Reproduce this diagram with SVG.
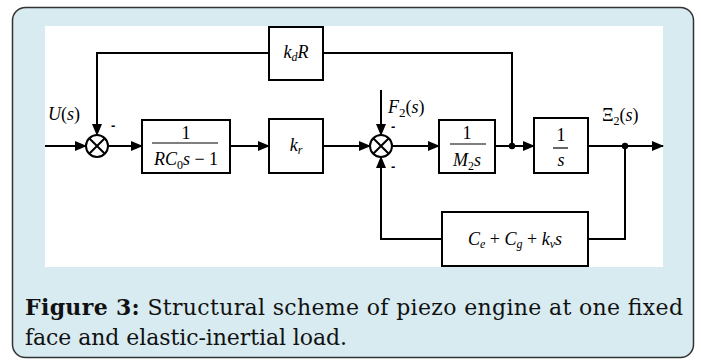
<svg xmlns="http://www.w3.org/2000/svg" width="701" height="364" viewBox="0 0 701 364">
<defs>
<style>
.blk{fill:#fff;stroke:#000;stroke-width:2}
.ln{fill:none;stroke:#000;stroke-width:2}
.m{font-family:"Liberation Serif","Times New Roman",serif;font-size:18px;fill:#000}
.i{font-style:italic}
.sub{font-size:12px;font-style:italic}
.frac{stroke:#000;stroke-width:1.2}
.minus{font-family:"Liberation Sans",Arial,sans-serif;font-size:13px;font-weight:bold;fill:#000}
.cap{font-family:"DejaVu Serif",serif;font-size:22px;fill:#111}
</style>
<marker id="ah" markerWidth="12" markerHeight="10" refX="11" refY="5" orient="auto" markerUnits="userSpaceOnUse">
<path d="M0,0 L12,5 L0,10 z" fill="#000"/>
</marker>
</defs>
<rect x="12.5" y="7.5" width="681" height="350" rx="13" fill="#d7ebf0" stroke="#333" stroke-width="1.5"/>
<rect x="45" y="26" width="618" height="241" fill="#fff"/>

<g id="connectors">
<path class="ln" d="M45,146 H86" marker-end="url(#ah)"/>
<path class="ln" d="M108,146 H142" marker-end="url(#ah)"/>
<path class="ln" d="M230,146 H269" marker-end="url(#ah)"/>
<path class="ln" d="M323,146 H370" marker-end="url(#ah)"/>
<path class="ln" d="M392,146 H439" marker-end="url(#ah)"/>
<path class="ln" d="M495,146 H534" marker-end="url(#ah)"/>
<path class="ln" d="M588,146 H663" marker-end="url(#ah)"/>
<path class="ln" d="M512,146 V53 H323"/>
<path class="ln" d="M269,53 H97 V135" marker-end="url(#ah)"/>
<path class="ln" d="M381,90 V135" marker-end="url(#ah)"/>
<path class="ln" d="M625,146 V239 H588"/>
<path class="ln" d="M442,239 H381 V157" marker-end="url(#ah)"/>
<circle cx="512" cy="146" r="3.2" fill="#000"/>
<circle cx="625" cy="146" r="3.2" fill="#000"/>
</g>

<g id="sum1">
<circle cx="97" cy="146" r="11" fill="#fff" stroke="#000" stroke-width="2"/>
<path class="ln" d="M89.2,138.2 L104.8,153.8 M104.8,138.2 L89.2,153.8"/>
<text class="minus" x="111" y="130">-</text>
</g>

<g id="sum2">
<circle cx="381" cy="146" r="11" fill="#fff" stroke="#000" stroke-width="2"/>
<path class="ln" d="M373.2,138.2 L388.8,153.8 M388.8,138.2 L373.2,153.8"/>
<text class="minus" x="391" y="131">-</text>
<text class="minus" x="391" y="171">-</text>
</g>

<g id="input">
<text class="m" x="48" y="120" font-size="20"><tspan class="i">U</tspan>(<tspan class="i">s</tspan>)</text>
</g>

<g id="disturbance">
<text class="m" x="388" y="113" font-size="20"><tspan class="i">F</tspan><tspan font-size="13" dy="4">2</tspan><tspan dy="-4">(</tspan><tspan class="i">s</tspan>)</text>
</g>

<g id="output">
<text class="m" x="602" y="121" font-size="19">Ξ<tspan font-size="12" dy="4">2</tspan><tspan dy="-4">(</tspan><tspan class="i">s</tspan>)</text>
</g>

<g id="kdR">
<rect class="blk" x="269" y="27" width="54" height="53"/>
<text class="m" x="296" y="58" text-anchor="middle"><tspan class="i">k</tspan><tspan class="sub" dy="3">d</tspan><tspan class="i" dy="-3">R</tspan></text>
</g>

<g id="block1">
<rect class="blk" x="142" y="120" width="88" height="53"/>
<text class="m" x="186" y="139" text-anchor="middle">1</text>
<line class="frac" x1="152" y1="143" x2="218" y2="143"/>
<text class="m" x="186" y="165" text-anchor="middle"><tspan class="i">RC</tspan><tspan font-size="12" dy="4">0</tspan><tspan class="i" dy="-4">s</tspan> − 1</text>
</g>

<g id="kr">
<rect class="blk" x="269" y="119" width="54" height="54"/>
<text class="m" x="296" y="151" text-anchor="middle"><tspan class="i">k</tspan><tspan class="sub" dy="3">r</tspan></text>
</g>

<g id="block_M2s">
<rect class="blk" x="439" y="120" width="56" height="53"/>
<text class="m" x="467" y="139" text-anchor="middle">1</text>
<line class="frac" x1="450" y1="144" x2="486" y2="144"/>
<text class="m" x="467" y="166" text-anchor="middle"><tspan class="i">M</tspan><tspan font-size="12" dy="4">2</tspan><tspan class="i" dy="-4">s</tspan></text>
</g>

<g id="block_s">
<rect class="blk" x="534" y="118" width="54" height="55"/>
<text class="m" x="561" y="141" text-anchor="middle">1</text>
<line class="frac" x1="553" y1="148" x2="568" y2="148"/>
<text class="m i" x="561" y="166" text-anchor="middle">s</text>
</g>

<g id="block_C">
<rect class="blk" x="442" y="212" width="146" height="54"/>
<text class="m" x="515" y="245" text-anchor="middle" font-size="16"><tspan class="i">C</tspan><tspan class="sub" font-size="11" dy="3">e</tspan><tspan dy="-3"> + </tspan><tspan class="i">C</tspan><tspan class="sub" font-size="11" dy="3">g</tspan><tspan dy="-3"> + </tspan><tspan class="i">k</tspan><tspan class="sub" font-size="11" dy="3">v</tspan><tspan class="i" dy="-3">s</tspan></text>
</g>

<text class="cap" x="25" y="315" textLength="658" lengthAdjust="spacing"><tspan font-weight="bold">Figure 3:</tspan> Structural scheme of piezo engine at one fixed</text>
<text class="cap" x="25" y="345" textLength="322" lengthAdjust="spacing">face and elastic-inertial load.</text>
</svg>
